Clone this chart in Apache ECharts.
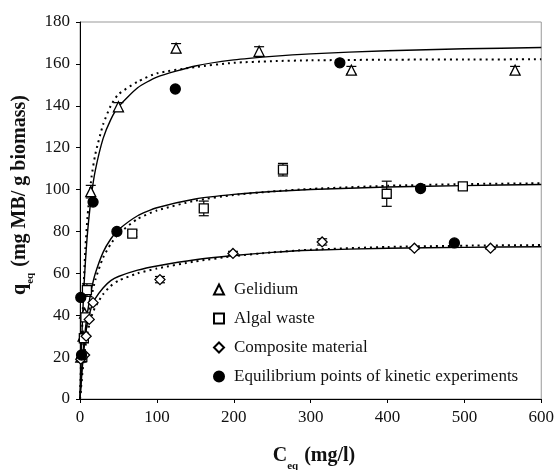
<!DOCTYPE html>
<html>
<head>
<meta charset="utf-8">
<script src="https://cdn.jsdelivr.net/npm/echarts@6/dist/echarts.min.js"></script>
<style>html,body{margin:0;padding:0;background:#fff}#c{width:557px;height:470px}</style>
</head>
<body>
<div id="c"></div>
<script>
// ---- data ----
const curveX = [0, 1, 2, 3, 5, 7, 10, 15, 20, 30, 40, 50, 75, 100, 150, 200, 250, 300, 400, 500, 600];
const gelidiumSolid  = [0, 13.9, 25.7, 35.9, 52.5, 65.4, 80.3, 97.6, 109.3, 124.3, 133.4, 139.5, 148.6, 153.7, 159, 161.9, 163.6, 164.8, 166.3, 167.2, 167.8];
const gelidiumDotted = [0, 13, 25, 36, 56, 72, 88, 106, 117, 131, 140, 145.5, 151.5, 155.5, 158.5, 160.5, 161.3, 161.7, 162, 162.1, 162.2];
const algalSolid     = [0, 6.6, 12.4, 17.5, 26.3, 33.4, 42, 52.5, 60, 70, 76.4, 80.8, 87.5, 91.3, 95.5, 97.7, 99.1, 100, 101.2, 101.9, 102.4];
const algalDotted    = [0, 5.5, 10.5, 15, 23, 30, 38.5, 49, 57, 67.5, 74, 78.8, 86, 90, 94.7, 97.4, 99.1, 100.3, 101.8, 102.6, 103];
const compSolid      = [0, 5, 10, 15, 23, 30, 37, 44, 48, 53, 56.5, 58.5, 61.5, 63.5, 66.5, 68.5, 70, 71, 72, 72.4, 72.7];
const compDotted     = [0, 4, 8, 12, 19, 25, 32, 39.5, 44, 50, 54, 56.5, 60, 62.3, 65.7, 68.2, 70, 71.3, 72.6, 73.2, 73.5];

const gelidiumX   = [1, 4, 6, 14, 50, 125, 233, 353, 566];
const gelidiumY   = [20, 30, 41, 99, 139.5, 167.5, 166, 157, 157];
const gelidiumErr = [0, 0, 0, 3, 2, 2.2, 2.2, 1.8, 1.8];

const algalX   = [3, 5, 7, 9, 68, 161, 264, 399, 498];
const algalY   = [20, 29, 39, 52, 79, 91, 109.5, 98, 101.5];
const algalErr = [0, 0, 0, 3, 1.5, 3.5, 3, 6, 1.5];

const compX   = [1, 6, 8, 12, 17, 104, 199, 315, 435, 534];
const compY   = [19, 21, 30, 38, 46, 57, 69.5, 75, 72, 72];
const compErr = [0, 0, 0, 0, 0, 1.5, 1, 1.5, 0.5, 0.5];

const eqX = [1, 2, 17, 48, 124, 338, 443, 487];
const eqY = [48.5, 21, 94, 80, 148, 160.5, 100.5, 74.5];

const xTicks = [0, 100, 200, 300, 400, 500, 600];
const yTicks = [0, 20, 40, 60, 80, 100, 120, 140, 160, 180];

// ---- build ----
const F = 'Liberation Serif';
const zip = (a, b) => a.map((v, i) => [v, b[i]]);
const errData = [];
[[gelidiumX, gelidiumY, gelidiumErr], [algalX, algalY, algalErr], [compX, compY, compErr]].forEach(([xs, ys, es]) => {
  xs.forEach((x, i) => { if (es[i] > 0) errData.push([x, ys[i] - es[i], ys[i] + es[i]]); });
});

const lineS = (d, dotted) => ({
  type: 'line', data: zip(curveX, d), showSymbol: false, smooth: 0.2, silent: true,
  lineStyle: { color: '#000', width: dotted ? 2 : 1.4, type: dotted ? [2, 4] : 'solid' }, z: 2
});
const scat = (name, xs, ys, symbol, filled, size) => ({
  type: 'scatter', name, data: zip(xs, ys), symbol, symbolSize: size,
  itemStyle: { color: filled ? '#000' : '#fff', borderColor: '#000', borderWidth: 1.3, opacity: 1 }, z: 5
});

const titleRich = {
  b: { fontFamily: F, fontSize: 20, fontWeight: 'bold', fill: '#111', color: '#111' },
  s: { fontFamily: F, fontSize: 11, fontWeight: 'bold', fill: '#111', color: '#111', verticalAlign: 'bottom', padding: [0, 0, -6, 0] },
  t: { fontFamily: F, fontSize: 20, fontWeight: 'bold', fill: '#111', color: '#111', padding: [0, 0, 0, 6] }
};

const chart = echarts.init(document.getElementById('c'), null, { renderer: 'canvas' });
chart.setOption({
  animation: false,
  backgroundColor: '#fff',
  grid: { left: 80, top: 22, right: 14, bottom: 71, show: true, borderColor: '#999', borderWidth: 1, backgroundColor: 'transparent' },
  xAxis: {
    type: 'value', min: 0, max: 600, interval: 100,
    axisLine: { lineStyle: { color: '#000', width: 1 } },
    axisTick: { show: true, length: 4, lineStyle: { color: '#000' } },
    splitLine: { show: false },
    axisLabel: { fontFamily: F, fontSize: 17, color: '#111', margin: 10, formatter: v => xTicks.includes(v) ? String(v) : '' }
  },
  yAxis: {
    type: 'value', min: 0, max: 180, interval: 20,
    axisLine: { show: true, lineStyle: { color: '#000', width: 1 } },
    axisTick: { show: true, length: 4, lineStyle: { color: '#000' } },
    splitLine: { show: false },
    axisLabel: { fontFamily: F, fontSize: 17, color: '#111', margin: 10, formatter: v => yTicks.includes(v) ? String(v) : '' }
  },
  graphic: [
    { type: 'text', x: 314, y: 456, silent: true,
      style: { text: '{b|C}{s|eq}{t|(mg/l)}', rich: titleRich, align: 'center', verticalAlign: 'middle' } },
    { type: 'text', x: 20, y: 195, rotation: Math.PI / 2, silent: true,
      style: { text: '{b|q}{s|eq}{t|(mg MB/ g biomass)}', rich: titleRich, align: 'center', verticalAlign: 'middle' } }
  ],
  legend: {
    orient: 'vertical', left: 208, top: 276, itemGap: 12, itemWidth: 10, itemHeight: 10,
    textStyle: { fontFamily: F, fontSize: 17, color: '#111', lineHeight: 17, padding: [0, 0, 0, 5] },
    data: ['Gelidium', 'Algal waste', 'Composite material', 'Equilibrium points of kinetic experiments']
  },
  series: [
    lineS(gelidiumSolid, false), lineS(gelidiumDotted, true),
    lineS(algalSolid, false), lineS(algalDotted, true),
    lineS(compSolid, false), lineS(compDotted, true),
    {
      type: 'custom', data: errData, silent: true, z: 4,
      renderItem: (params, api) => {
        const lo = api.coord([api.value(0), api.value(1)]);
        const hi = api.coord([api.value(0), api.value(2)]);
        const w = 5;
        const st = { stroke: '#000', lineWidth: 1.2 };
        return { type: 'group', children: [
          { type: 'line', shape: { x1: lo[0], y1: lo[1], x2: hi[0], y2: hi[1] }, style: st },
          { type: 'line', shape: { x1: lo[0] - w, y1: lo[1], x2: lo[0] + w, y2: lo[1] }, style: st },
          { type: 'line', shape: { x1: hi[0] - w, y1: hi[1], x2: hi[0] + w, y2: hi[1] }, style: st }
        ] };
      }
    },
    scat('Gelidium', gelidiumX, gelidiumY, 'triangle', false, 10),
    scat('Algal waste', algalX, algalY, 'rect', false, 9),
    scat('Composite material', compX, compY, 'diamond', false, 10),
    scat('Equilibrium points of kinetic experiments', eqX, eqY, 'circle', true, 10)
  ]
});
</script>
</body>
</html>
